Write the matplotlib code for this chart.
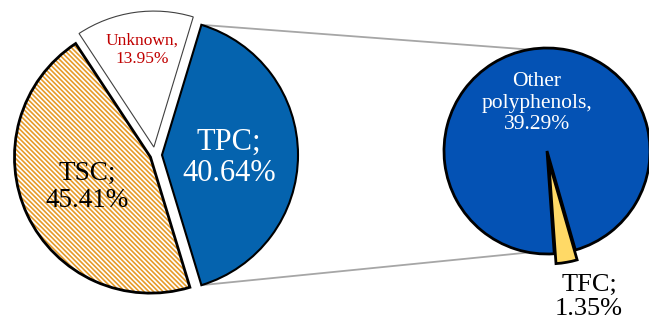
import numpy as np
import matplotlib.pyplot as plt
import matplotlib.patches as mpatches

plt.rcParams['font.family'] = ['Liberation Serif', 'DejaVu Serif']
plt.rcParams['hatch.linewidth'] = 1.2

# main pie: TPC is broken out into the secondary pie
main_labels = ['TPC', 'Unknown', 'TSC']
main_values = [40.64, 13.95, 45.41]
main_colors = ['#0563AE', 'white', 'white']
main_explode = [7, 8, 5]  # offsets in axis units (pixels)

# breakdown of TPC
sub_labels = ['Other polyphenols', 'TFC']
sub_values = [39.29, 1.35]
sub_colors = ['#0452B4', '#FFD966']
sub_explode = [0, 10]

W, H = 649, 322
fig = plt.figure(figsize=(W / 100, H / 100), dpi=100)
ax = fig.add_axes([0, 0, 1, 1])

c1, r1 = (155, H - 155), 136
c2, r2 = (547, H - 151), 103

start1 = -main_values[0] / sum(main_values) * 360 / 2
w1, _ = ax.pie(main_values, colors=main_colors, explode=main_explode,
               startangle=start1, counterclock=True, center=c1, radius=r1,
               frame=True, wedgeprops=dict(edgecolor='black', linewidth=1.5))
w1[1].set_edgecolor('#404040')
w1[1].set_linewidth(0.8)

# TSC: orange hatch with a black outline on top
tsc = w1[2]
tsc.set_hatch('\\' * 7)
tsc.set_edgecolor('#E69B2A')
tsc.set_linewidth(0)
ax.add_patch(mpatches.Wedge(tsc.center, tsc.r, tsc.theta1, tsc.theta2,
                            facecolor='none', edgecolor='black', linewidth=2))

start2 = -74
w2, _ = ax.pie(sub_values, colors=sub_colors, explode=sub_explode,
               startangle=start2, counterclock=True, center=c2, radius=r2,
               frame=True, wedgeprops=dict(edgecolor='black', linewidth=2))
ax.set_xlim(0, W)
ax.set_ylim(0, H)
ax.set_aspect('equal')
ax.axis('off')

# connector lines from TPC edges to the secondary pie
tpc = w1[0]
for th_main, th_sub in [(tpc.theta2, 100), (tpc.theta1, -100)]:
    p0 = (tpc.center[0] + tpc.r * np.cos(np.radians(th_main)),
          tpc.center[1] + tpc.r * np.sin(np.radians(th_main)))
    p1 = (c2[0] + r2 * np.cos(np.radians(th_sub)),
          c2[1] + r2 * np.sin(np.radians(th_sub)))
    ax.plot([p0[0], p1[0]], [p0[1], p1[1]], color='#A6A6A6', lw=1.3, zorder=0)

ax.text(142, H - 50, f'{main_labels[1]},\n{main_values[1]:.2f}%', color='#C00000',
        fontsize=12.5, ha='center', va='center', linespacing=1.15)
ax.text(229, H - 158, f'{main_labels[0]};\n{main_values[0]:.2f}%', color='white',
        fontsize=22, ha='center', va='center', linespacing=1.1)
ax.text(87, H - 187, f'{main_labels[2]};\n{main_values[2]:.2f}%', color='black',
        fontsize=19.5, ha='center', va='center', linespacing=1.1)
ax.text(537, H - 103, 'Other\npolyphenols,\n' + f'{sub_values[0]:.2f}%', color='white',
        fontsize=15.5, ha='center', va='center', linespacing=1.15)
ax.text(589, H - 297, f'{sub_labels[1]};\n{sub_values[1]:.2f}%', color='black',
        fontsize=19, ha='center', va='center', linespacing=1.1)

fig.savefig('out.png', dpi=100)
